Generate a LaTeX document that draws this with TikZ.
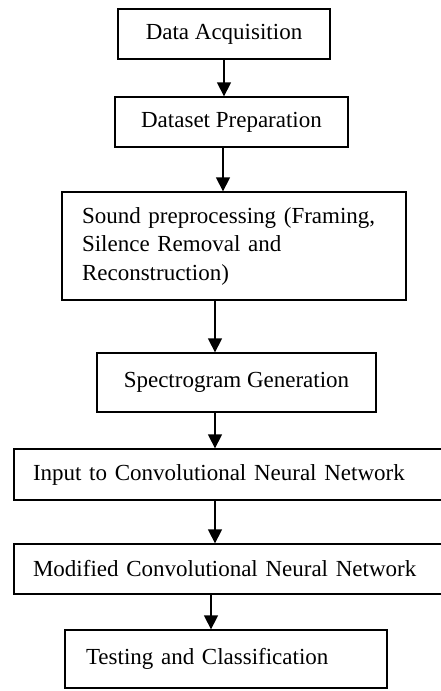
\documentclass[tikz,border=0pt]{standalone}
\usepackage{fontspec}
\setmainfont{Liberation Serif}
\usetikzlibrary{arrows.meta}
\begin{document}
\begin{tikzpicture}[
    x=1pt, y=-1pt, % pixel grid, y going down
    stage/.style={
      rectangle,
      draw=black,
      line width=1.3pt,
      inner sep=0pt,
      text=black,
      font=\fontsize{23}{28.5}\selectfont
    },
    flow/.style={line width=1.3pt, -{Triangle[length=14pt, width=14pt]}},
  ]
    \useasboundingbox (0,0) rectangle (441,691);
    \clip (0,0) rectangle (441,691);

    \node[stage, minimum width=212, minimum height=50] (acq) at (224,34) {Data Acquisition};
    \node[stage, minimum width=233, minimum height=50] (prep) at (231.5,122) {Dataset Preparation};
    \node[
      stage,
      minimum height=108,
      inner xsep=20pt,
      text width=304pt,
      align=left
    ] (sound) at (234,246) {Sound preprocessing (Framing,\\ Silence Removal and\\ Reconstruction)};
    \node[stage, minimum width=279, minimum height=59] (spec) at (236.5,382.5) {Spectrogram Generation};

    % the two wide boxes run past the right edge
    \node[stage, minimum height=51, inner xsep=19pt, text width=408pt, align=left]
      (input) at (237,474.5) {Input to Convolutional Neural Network};
    \node[stage, minimum height=50, inner xsep=19pt, text width=408pt, align=left]
      (cnn) at (237,569) {Modified Convolutional Neural Network};
    \node[stage, minimum height=58, inner xsep=21pt, text width=280pt, align=left]
      (test) at (226,659) {Testing and Classification};

    % arrows between the stages
    \draw[flow] (acq.south) -- (acq.south |- prep.north);
    \draw[flow] ([xshift=-8.5pt]prep.south) -- ([xshift=-8.5pt]prep.south |- sound.north);
    \draw[flow] ([xshift=-19pt]sound.south) -- ([xshift=-19pt]sound.south |- spec.north);
    \draw[flow] ([xshift=-21.5pt]spec.south) -- ([xshift=-21.5pt]spec.south |- input.north);
    \draw[flow] ([xshift=-22pt]input.south) -- ([xshift=-22pt]input.south |- cnn.north);
    \draw[flow] ([xshift=-26pt]cnn.south) -- ([xshift=-26pt]cnn.south |- test.north);
  \end{tikzpicture}
\end{document}
